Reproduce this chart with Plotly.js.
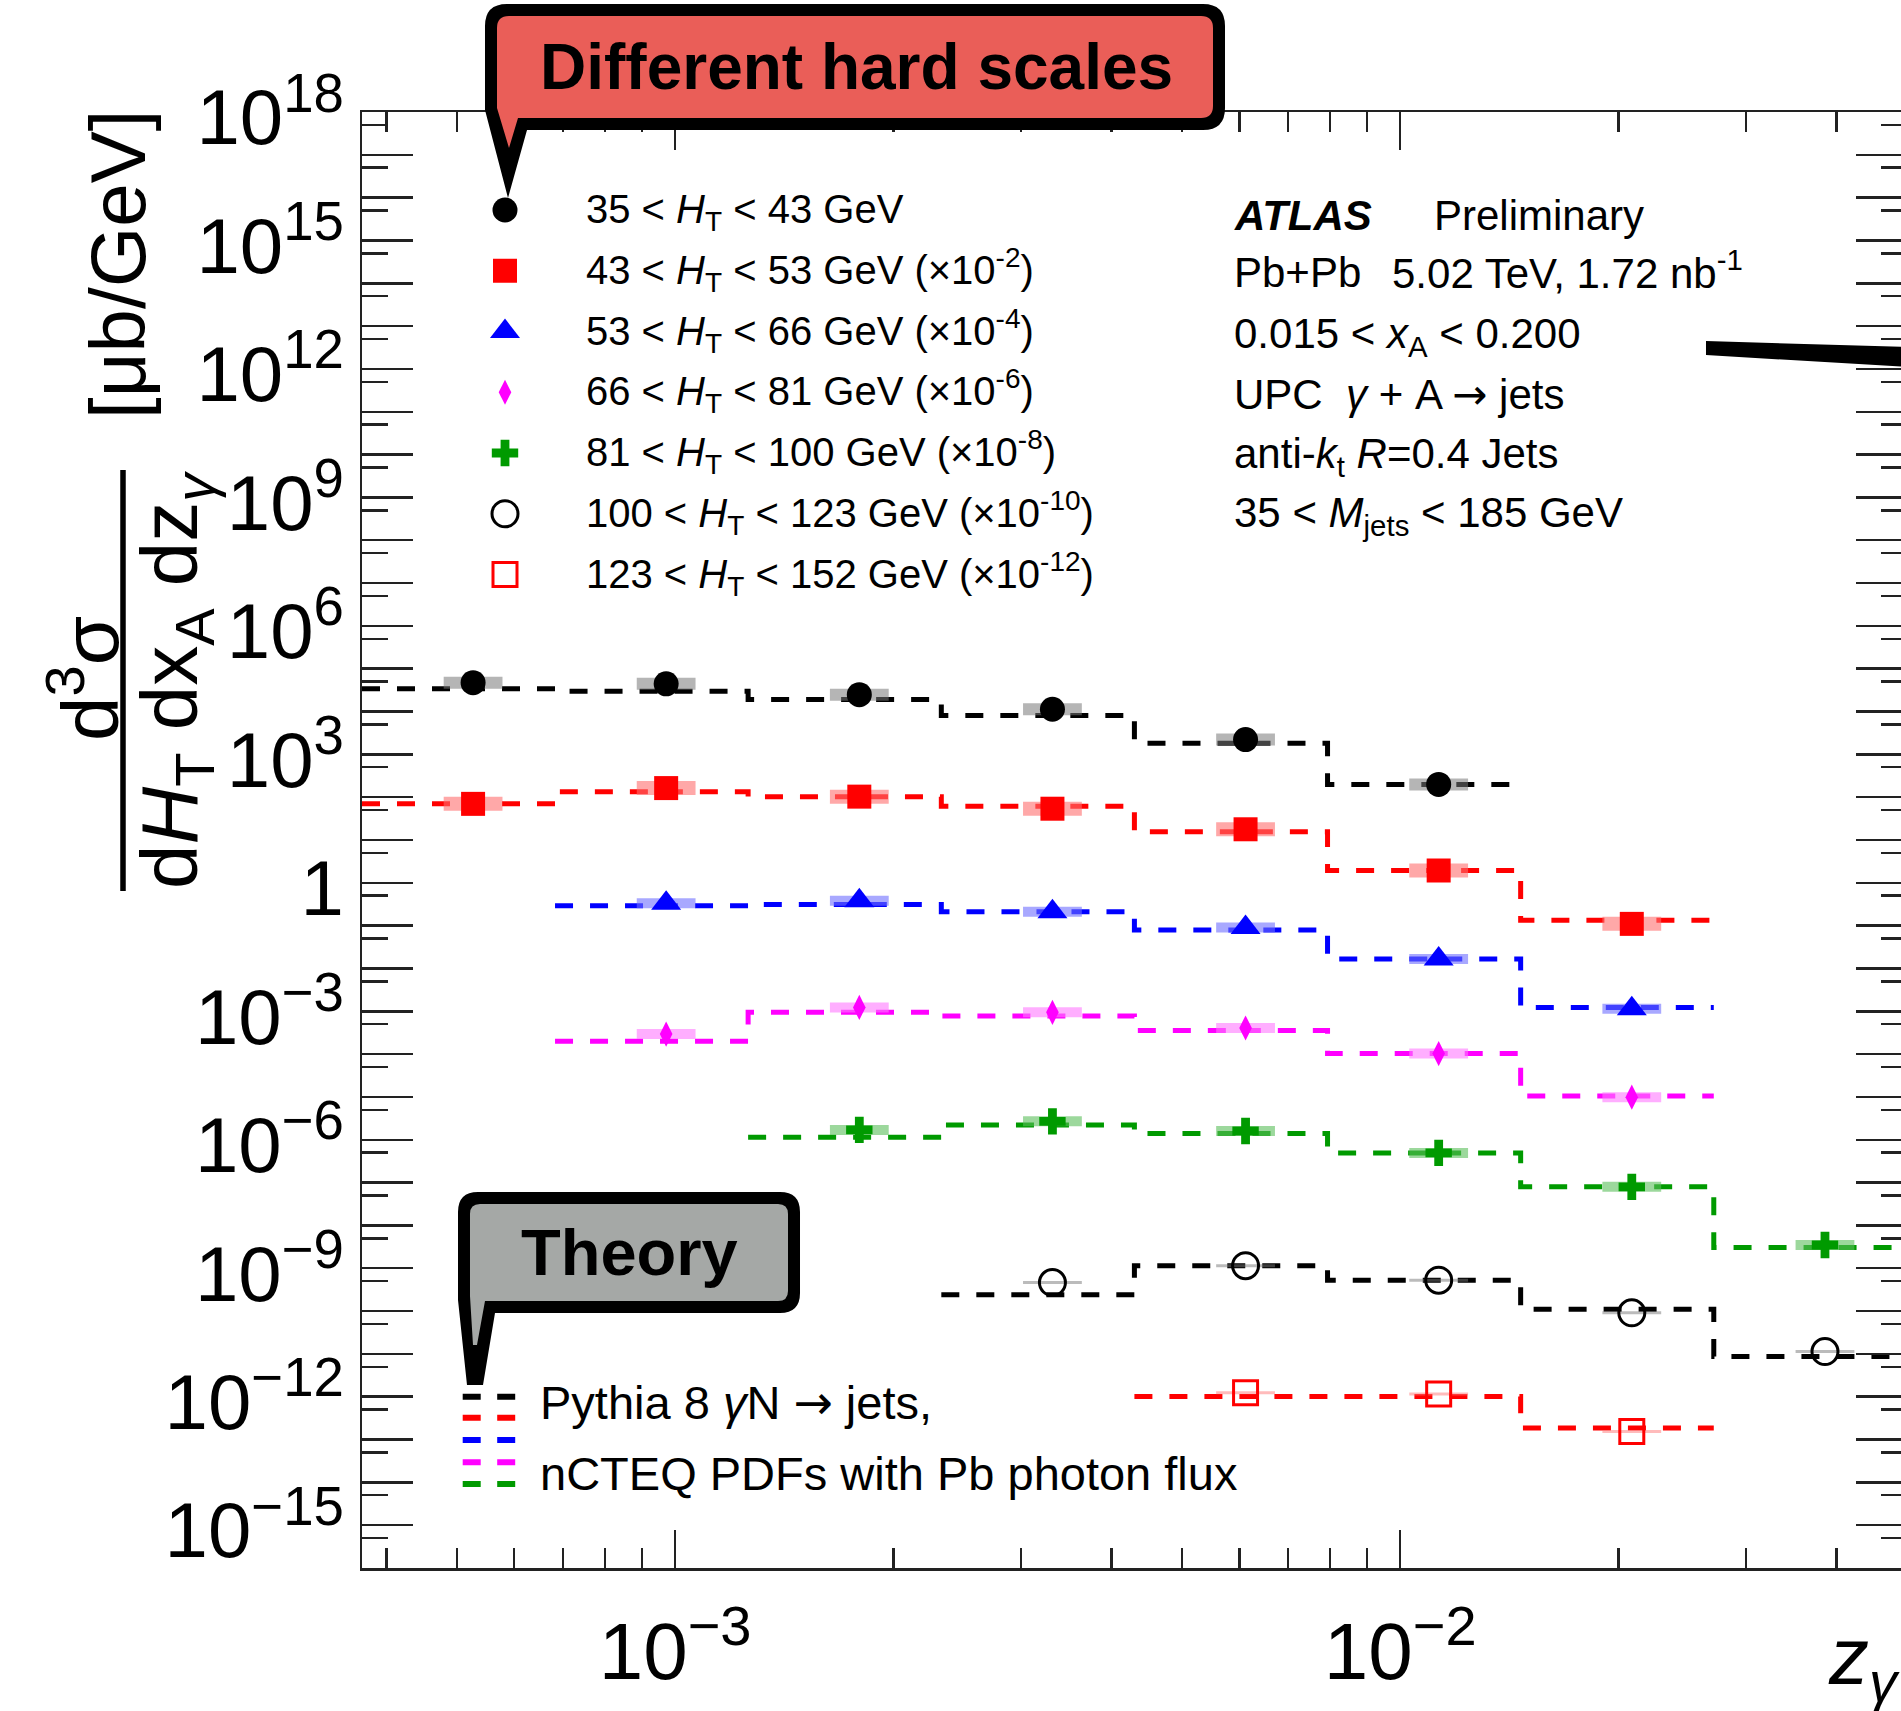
<!DOCTYPE html>
<html><head><meta charset="utf-8">
<script src="https://cdn.plot.ly/plotly-3.0.1.min.js"></script>
<style>html,body{margin:0;padding:0;overflow:hidden;background:#fff;} #chart{width:1960px;height:1711px;}</style>
</head><body><div id="chart"></div>
<script>
// ---------------- data ----------------
const binEdges = [3.70e-4, 6.83e-4, 1.261e-3, 2.329e-3, 4.30e-3, 7.94e-3, 1.466e-2, 2.707e-2, 5.0e-2];
const htEdges = [35, 43, 53, 66, 81, 100, 123, 152];
const scaleExp = [0, -2, -4, -6, -8, -10, -12];
const firstBin = [0, 0, 1, 1, 2, 3, 4];

// measured (already scaled) cross sections, per HT bin
const ht1Data   = [4.72e4, 4.43e4, 2.47e4, 1.13e4, 2.21e3, 1.99e2];
const ht1Theory = [3.41e4, 2.99e4, 1.90e4, 8.13e3, 1.82e3, 1.99e2];
const ht2Data   = [69.8, 163, 103, 53.8, 17.8, 1.94, 0.110];
const ht2Theory = [69.8, 134, 103, 61.4, 15.6, 1.94, 0.134];
const ht3Data   = [0.333, 0.380, 0.211, 0.0906, 0.01664, 1.15e-3];
const ht3Theory = [0.293, 0.313, 0.211, 0.0795, 0.01664, 1.23e-3];
const ht4Data   = [2.94e-4, 1.23e-3, 9.48e-4, 4.07e-4, 1.03e-4, 9.9e-6];
const ht4Theory = [1.99e-4, 9.48e-4, 7.81e-4, 3.57e-4, 1.03e-4, 1.05e-5];
const ht5Data   = [1.70e-6, 2.69e-6, 1.60e-6, 4.94e-7, 7.96e-8, 3.49e-9];
const ht5Theory = [1.15e-6, 2.21e-6, 1.40e-6, 4.94e-7, 7.96e-8, 3.06e-9];
const ht6Data   = [4.63e-10, 1.15e-9, 5.27e-10, 9.08e-11, 1.13e-11];
const ht6Theory = [2.41e-10, 1.15e-9, 5.27e-10, 1.10e-10, 8.7e-12];
const ht7Data   = [1.23e-12, 1.15e-12, 1.53e-13];
const ht7Theory = [1.01e-12, 1.01e-12, 1.86e-13];

const yTickExp = []; for (let n = -15; n <= 18; n++) yTickExp.push(n);
const xMajorTicks = [1e-3, 1e-2];
const xMinorTicks = [4e-4,5e-4,6e-4,7e-4,8e-4,9e-4,2e-3,3e-3,4e-3,5e-3,6e-3,7e-3,8e-3,9e-3,2e-2,3e-2,4e-2,5e-2];

const ARROW = "<span style=\"font-family:'DejaVu Sans'\">→</span>";
const atlasLines = [
  "0.015 &lt; <i>x</i><sub>A</sub> &lt; 0.200",
  "UPC  <i>γ</i> + A " + ARROW + " jets",
  "anti-<i>k</i><sub>t</sub> <i>R</i>=0.4 Jets",
  "35 &lt; <i>M</i><sub>jets</sub> &lt; 185 GeV"
];

// ---------------- styles ----------------
const FONT = "'Liberation Sans', Arial, Helvetica, sans-serif";
const styles = [
  {color:'#000000', symbol:'circle',        size:25, lw:0, box:'rgba(120,120,120,0.55)', boxH:12},
  {color:'#ff0000', symbol:'square',        size:24, lw:0, box:'rgba(255,110,110,0.6)',  boxH:14},
  {color:'#0000ff', symbol:'triangle-up',   size:26, lw:0, box:'rgba(110,110,255,0.6)',  boxH:10},
  {color:'#ff00ff', symbol:'diamond-tall',  size:18, lw:0, box:'rgba(255,120,255,0.6)',  boxH:10},
  {color:'#009a00', symbol:'cross',         size:22, lw:0, box:'rgba(90,190,90,0.6)',    boxH:10},
  {color:'#000000', symbol:'circle-open',   size:26, lw:3, box:'rgba(120,120,120,0.5)',  boxH:3},
  {color:'#ff0000', symbol:'square-open',   size:24, lw:3, box:'rgba(255,120,120,0.5)',  boxH:3}
];
const dataSets = [ht1Data, ht2Data, ht3Data, ht4Data, ht5Data, ht6Data, ht7Data];
const theorySets = [ht1Theory, ht2Theory, ht3Theory, ht4Theory, ht5Theory, ht6Theory, ht7Theory];

// figure geometry (pixels)
const W = 1960, H = 1711, ML = 362, MR = 53, MT = 112, MB = 143;
const PW = W - ML - MR, PH = H - MT - MB;
const fx = p => (p - ML) / PW;
const fy = p => (H - MB - p) / PH;

// ---------------- traces ----------------
const traces = [];
theorySets.forEach((th, i) => {
  const n = th.length;
  const xe = binEdges.slice(firstBin[i], firstBin[i] + n + 1);
  const ye = th.concat([th[n - 1]]);
  traces.push({type:'scatter', mode:'lines', x:xe, y:ye, hoverinfo:'skip',
    line:{shape:'hv', color:styles[i].color, width:5, dash:'18px,17px'}});
});
const centersFor = i => dataSets[i].map((v, k) => {
  const b = firstBin[i] + k; return (binEdges[b] + binEdges[b + 1]) / 2; });
dataSets.forEach((d, i) => {
  const s = styles[i];
  traces.push({type:'scatter', mode:'markers', x:centersFor(i), y:d, hoverinfo:'skip',
    marker:{symbol:'line-ew', size:42, opacity:1, color:s.box, line:{color:s.box, width:s.boxH}}});
});
dataSets.forEach((d, i) => {
  const s = styles[i];
  traces.push({type:'scatter', mode:'markers', x:centersFor(i), y:d,
    marker:{symbol:s.symbol, size:s.size, opacity:1, color:s.color, line:{color:s.color, width:s.lw}}});
});
// legend symbols (overlay paper-like axes)
const legRowY = i => 210 + 60.75 * i;
traces.push({type:'scatter', mode:'markers', xaxis:'x2', yaxis:'y2', hoverinfo:'skip',
  x: styles.map(() => fx(505)), y: styles.map((s, i) => fy(legRowY(i))),
  marker:{symbol: styles.map(s => s.symbol), size: styles.map(s => s.size), opacity:1,
    color: styles.map(s => s.color), line:{color: styles.map(s => s.color), width: styles.map(s => s.lw)}},
  cliponaxis:false});

// ---------------- annotations ----------------
const ann = [];
function txt(text, px, py, size, o) {
  o = o || {};
  const a = {xref:'paper', yref:'paper', showarrow:false, text:text,
    x: fx(px), y: fy(py), xanchor: o.xa || 'left', yanchor: o.ya || 'top',
    font:{family:FONT, size:size, color:'#000'}};
  if (o.angle !== undefined) a.textangle = o.angle;
  ann.push(a);
}
// top of text box from visual centre of digits (extra for superscripts)
const topFromCenter = (c, s, sup) => c - 0.547 * s - 3 - (sup ? 0.1485 * s : 0);

htEdges.slice(0, 7).forEach((lo, i) => {
  const hi = htEdges[i + 1];
  let t = lo + " &lt; <i>H</i><sub>T</sub> &lt; " + hi + " GeV";
  if (scaleExp[i] !== 0) t += " (×10<sup>" + scaleExp[i] + "</sup>)";
  txt(t, 584, topFromCenter(legRowY(i), 40, scaleExp[i] !== 0), 40);
});
const atlasRowY = [216, 273, 333.5, 394, 453.5, 513];
txt("<b><i>ATLAS</i></b>", 1232, topFromCenter(atlasRowY[0], 42), 42);
txt("Preliminary", 1432, topFromCenter(atlasRowY[0], 42), 42);
txt("Pb+Pb", 1232, topFromCenter(atlasRowY[1], 42), 42);
txt("5.02 TeV, 1.72 nb<sup>-1</sup>", 1390, topFromCenter(atlasRowY[1], 42, true), 42);
atlasLines.forEach((t, k) => txt(t, 1232, topFromCenter(atlasRowY[k + 2], 42), 42));

txt("Pythia 8 <i>γ</i>N " + ARROW + " jets,", 538, topFromCenter(1401.5, 47), 47);
txt("nCTEQ PDFs with Pb photon flux", 538, topFromCenter(1474, 47), 47);

// callout texts
txt("<b>Different hard scales</b>", 856, 67, 64, {xa:'center', ya:'middle'});
txt("<b>Theory</b>", 629, 1252, 65, {xa:'center', ya:'middle'});

// axis titles
txt("[μb/GeV]", 118, 264, 78, {xa:'center', ya:'middle', angle:-90});
txt("d<sup>3</sup>σ", 84, 679, 80, {xa:'center', ya:'middle', angle:-90});
txt("d<i>H</i><sub>T</sub> dx<sub>A</sub> dz<sub><i>γ</i></sub>", 176, 680, 80, {xa:'center', ya:'middle', angle:-90});
txt("<i>z</i><sub><i>γ</i></sub>", 1826, 1610, 80);

// ---------------- shapes ----------------
const P = (x, y) => fx(x).toFixed(5) + "," + fy(y).toFixed(5);
function callout(b, r, ptr) {
  const [x0, y0, x1, y1] = b;
  let d = "M" + P(x0, y0 + r) + " Q" + P(x0, y0) + " " + P(x0 + r, y0) +
          " L" + P(x1 - r, y0) + " Q" + P(x1, y0) + " " + P(x1, y0 + r) +
          " L" + P(x1, y1 - r) + " Q" + P(x1, y1) + " " + P(x1 - r, y1);
  ptr.forEach(p => { d += " L" + P(p[0], p[1]); });
  return d + " Z";
}
const shapes = [];
function pathShape(d, fill) {
  shapes.push({type:'path', xref:'paper', yref:'paper', path:d, fillcolor:fill,
    line:{width:0}, layer:'above'});
}
// red callout
pathShape(callout([485, 4, 1225, 130], 22, [[527, 130], [508, 198], [485, 110]]), '#000');
pathShape(callout([497, 16, 1213, 118], 12, [[518, 118], [509, 148], [497, 108]]), '#ea5e58');
// grey callout
pathShape(callout([458, 1192, 800, 1313], 20, [[495, 1313], [483, 1385], [467, 1385], [458, 1300]]), '#000');
pathShape(callout([470, 1204, 788, 1301], 10, [[485, 1301], [477, 1345], [473, 1345], [470, 1296]]), '#a5a8a6');
// wedge arrow
pathShape("M" + P(1706, 341) + " L" + P(1960, 348.5) + " L" + P(1960, 370) + " L" + P(1706, 355) + " Z", '#000');
// fraction bar
shapes.push({type:'line', xref:'paper', yref:'paper', x0:fx(123), x1:fx(123), y0:fy(470), y1:fy(891),
  line:{color:'#000', width:5.5}, layer:'above'});
// theory legend dashes
[1396.7, 1417.7, 1440, 1462.3, 1484].forEach((yy, i) => {
  shapes.push({type:'line', xref:'paper', yref:'paper', x0:fx(462.7), x1:fx(515.5), y0:fy(yy), y1:fy(yy),
    line:{color:styles[i].color, width:6, dash:'18px,16.5px'}, layer:'above'});
});

// ---------------- layout ----------------
const axCommon = {showline:true, linecolor:'#222', linewidth:2.5, mirror:'ticks', ticks:'inside',
  tickwidth:2.5, tickcolor:'#222', showgrid:false, zeroline:false, tickmode:'array', fixedrange:true};
const layout = {
  width:W, height:H, margin:{l:ML, r:MR, t:MT, b:MB, pad:0},
  paper_bgcolor:'#fff', plot_bgcolor:'#fff', showlegend:false,
  font:{family:FONT, color:'#000'},
  xaxis: Object.assign({}, axCommon, {type:'log',
    range:[Math.log10(binEdges[0]), Math.log10(binEdges[binEdges.length - 1])],
    ticklen:38, tickvals:xMajorTicks, ticktext:xMajorTicks.map(v => "10<sup>−" + (-Math.round(Math.log10(v))) + "</sup>"),
    tickfont:{family:FONT, size:80, color:'#000'}, ticklabelstandoff:12,
    minor:{tickmode:'array', tickvals:xMinorTicks, ticks:'inside', ticklen:20, tickwidth:2.5, tickcolor:'#222', showgrid:false}}),
  yaxis: Object.assign({}, axCommon, {type:'log', range:[-16, 18],
    ticklen:51, tickvals:yTickExp.map(n => Math.pow(10, n)),
    ticktext:yTickExp.map(n => n % 3 !== 0 ? "" : (n === 0 ? "1" : "10<sup>" + (n < 0 ? "−" + (-n) : n) + "</sup>")),
    tickfont:{family:FONT, size:78, color:'#000'}, ticklabelstandoff:0, ticklabelshift:5,
    minor:{tickmode:'array', tickvals:yTickExp.concat([-16]).filter(n => n < 18).map(n => 5 * Math.pow(10, n)),
      ticks:'inside', ticklen:25.7, tickwidth:2.5, tickcolor:'#222', showgrid:false}}),
  xaxis2:{overlaying:'x', anchor:'y2', range:[0, 1], visible:false, fixedrange:true},
  yaxis2:{overlaying:'y', anchor:'x2', range:[0, 1], visible:false, fixedrange:true},
  annotations: ann, shapes: shapes
};
Plotly.newPlot('chart', traces, layout, {staticPlot:true, displayModeBar:false});
</script></body></html>
